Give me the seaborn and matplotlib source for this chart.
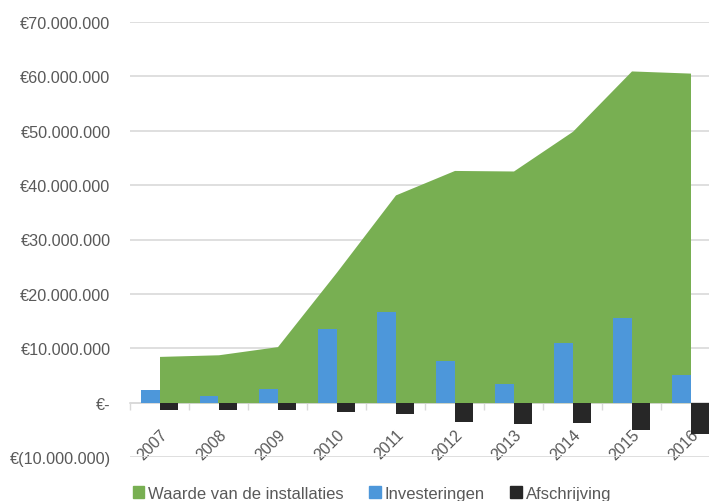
import numpy as np
import pandas as pd
import matplotlib
matplotlib.use("Agg")
import matplotlib.pyplot as plt
from matplotlib.patches import Patch
from matplotlib.ticker import FuncFormatter, MultipleLocator, FixedLocator
import seaborn as sns

years = ["2007", "2008", "2009", "2010", "2011", "2012", "2013", "2014", "2015", "2016"]
waarde = [8.5e6, 8.8e6, 10.3e6, 24.0e6, 38.2e6, 42.7e6, 42.6e6, 49.9e6, 61.0e6, 60.6e6]
investeringen = [2.3e6, 1.2e6, 2.5e6, 13.6e6, 16.7e6, 7.6e6, 3.4e6, 10.9e6, 15.6e6, 5.0e6]
afschrijving = [-1.4e6, -1.4e6, -1.4e6, -1.8e6, -2.0e6, -3.5e6, -3.9e6, -3.8e6, -5.0e6, -5.7e6]
series_names = ["Waarde van de installaties", "Investeringen", "Afschrijving"]

GREEN = "#78AF52"
BLUE = "#4D97DA"
DARK = "#272727"
TXT = "#595959"
GRID = "#D9D9D9"

sns.set_theme(style="white")
plt.rcParams["font.family"] = ["Liberation Sans", "DejaVu Sans"]

bars = pd.DataFrame({
    "jaar": years * 2,
    "bedrag": investeringen + afschrijving,
    "reeks": [series_names[1]] * len(years) + [series_names[2]] * len(years),
})

fig = plt.figure(figsize=(7.09, 5.02), dpi=100)
ax = fig.add_axes([130 / 709, 1 - 458 / 502, 590 / 709, 435 / 502])

xpos = np.arange(len(years))
ax.fill_between(xpos, 0, waarde, color=GREEN, lw=0, zorder=1)

sns.barplot(data=bars, x="jaar", y="bedrag", hue="reeks", order=years,
            hue_order=series_names[1:], palette=[BLUE, DARK], width=0.62,
            saturation=1, legend=False, ax=ax, zorder=2, edgecolor="none")

ax.set_xlim(-0.5, len(years) - 0.5)
ax.set_ylim(-10e6, 70e6)
ax.yaxis.set_major_locator(MultipleLocator(10e6))

def euro(v, pos):
    if abs(v) < 1:
        return "€-"
    s = f"{abs(v):,.0f}".replace(",", ".")
    return f"€({s})" if v < 0 else f"€{s}"

ax.yaxis.set_major_formatter(FuncFormatter(euro))
ax.grid(axis="y", color=GRID, lw=1.2, zorder=0)
ax.set_axisbelow(True)
for side in ["left", "right", "top"]:
    ax.spines[side].set_visible(False)
ax.spines["bottom"].set_position(("data", 0))
ax.spines["bottom"].set_color(GRID)
ax.spines["bottom"].set_linewidth(1.2)
ax.spines["bottom"].set_zorder(0.5)

ax.set_xlabel("")
ax.set_ylabel("")
ax.tick_params(axis="y", length=0, pad=14, labelsize=11.7, labelcolor=TXT)
ax.tick_params(axis="x", which="major", bottom=False, length=0, pad=17, labelsize=11.5, labelcolor=TXT)
ax.xaxis.set_minor_locator(FixedLocator(np.arange(len(years) + 1) - 0.5))
ax.tick_params(axis="x", which="minor", bottom=True, length=5, width=1, color=GRID, direction="out")
for lab in ax.get_xticklabels():
    lab.set_rotation(45)
    lab.set_ha("right")
    lab.set_rotation_mode("anchor")

handles = [Patch(color=GREEN), Patch(color=BLUE), Patch(color=DARK)]
fig.legend(handles, series_names, loc="lower center", bbox_to_anchor=(372 / 709, -0.03),
           ncol=3, frameon=False, fontsize=12, handlelength=0.7, handleheight=0.7,
           handletextpad=0.25, columnspacing=1.5, labelcolor=TXT)

fig.savefig("out.png", dpi=100)
